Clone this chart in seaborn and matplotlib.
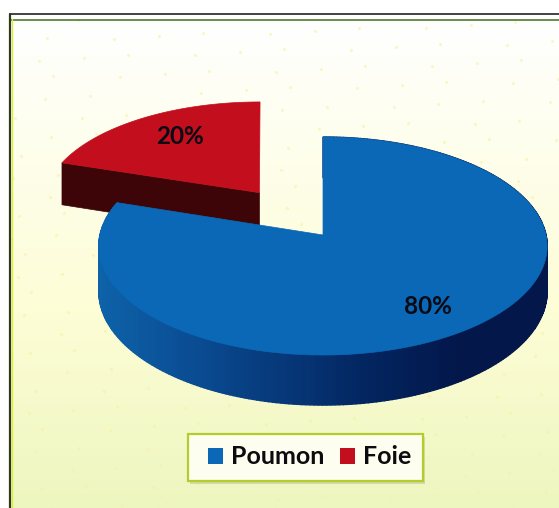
import numpy as np
import matplotlib
matplotlib.use("Agg")
import matplotlib.pyplot as plt
from matplotlib.colors import to_rgb
from matplotlib.patches import Patch, Polygon, Rectangle
import seaborn as sns

# Chart data
categories = ["Poumon", "Foie"]
shares = [80, 20]
value_labels = ["80%", "20%"]

top_colors = ["#0b68b6", "#c30f1d"]
foie_side_color = "#3d0508"
poumon_side_stops = ["#0e62a8", "#0a4d94", "#07397a", "#032560", "#03174a", "#03174a"]

sns.set_theme(style="white")
plt.rcParams["font.family"] = ["Lato", "DejaVu Sans"]

W, H = 559, 508
fig = plt.figure(figsize=(W / 100, H / 100), dpi=100)
ax = fig.add_axes([0, 0, 1, 1])
ax.set_xlim(0, W)
ax.set_ylim(H, 0)
ax.axis("off")

# Panel background: white fading to pale yellow-green
FRAME_L, FRAME_T = 10, 19
steps = np.linspace(0, 1, 256)[:, None]
start, mid, end = (np.array(to_rgb(c)) for c in ("#ffffff", "#fdfdd6", "#eef6bf"))
ramp = np.where(steps < 0.6, start + (mid - start) * steps / 0.6,
                mid + (end - mid) * (steps - 0.6) / 0.4)
ax.imshow(ramp[:, None, :], extent=(FRAME_L, W, H, FRAME_T), aspect="auto", zorder=0)
ax.set_xlim(0, W)
ax.set_ylim(H, 0)

# Faint printed speckle on an even low-discrepancy sequence
idx = np.arange(1, 260)
ax.scatter(FRAME_L + (W - FRAME_L) * ((idx * 0.7548776662) % 1),
           FRAME_T + (H - FRAME_T) * ((idx * 0.5698402910) % 1),
           s=5, color="#f8f0a0", alpha=0.55, linewidths=0, zorder=1)

# Frame lines
ax.plot([FRAME_L, W], [14, 14], color="#222222", lw=1.2, zorder=2)
ax.plot([FRAME_L, W], [19.5, 19.5], color="#3f6f1c", lw=1.1, zorder=2)
ax.plot([FRAME_L, FRAME_L], [14, H], color="#303818", lw=1.6, zorder=2)
ax.plot([FRAME_L + 1.5, FRAME_L + 1.5], [19, H], color="#d8f040", lw=1.0, zorder=2)

# Perspective projection of the unit disc onto the page
CX, CY, RX, RY, TILT, DEPTH = 323, 235, 223, 107.9, 0.101, 45
FOIE_LEAN = 5.0


def project(u, v):
    w = 1 + TILT * v
    return CX + RX * u / w, CY - RY * v / w


def depth_at(v):
    return DEPTH / (1 + TILT * v)


fractions = np.array(shares, dtype=float) / sum(shares)
sweep_poumon = 2 * np.pi * fractions[0]
sweep_foie = 2 * np.pi * fractions[1]

# Poumon runs clockwise from twelve o'clock; Foie fills the remainder and is pulled out
t_poumon = np.linspace(0, sweep_poumon, 300)
t_foie = np.linspace(2 * np.pi - sweep_foie, 2 * np.pi, 80)
bisector = 2 * np.pi - sweep_foie / 2
EXPLODE = 0.505
off_u, off_v = EXPLODE * np.sin(bisector), EXPLODE * np.cos(bisector)

# Foie wedge: cut face, then top
x1, y1 = project(off_u, off_v)
fu, fv = off_u + np.sin(t_foie), off_v + np.cos(t_foie)
fx, fy = project(fu, fv)
fx = fx - FOIE_LEAN * (fv - off_v)
ax.add_patch(Polygon([(fx[0], fy[0]), (x1, y1), (x1, y1 + depth_at(off_v)),
                      (fx[0], fy[0] + depth_at(fv[0]))],
                     closed=True, fc=foie_side_color, ec=foie_side_color, lw=0.5, zorder=3))
ax.add_patch(Polygon(np.column_stack([np.r_[x1, fx], np.r_[y1, fy]]),
                     closed=True, fc=top_colors[1], ec=top_colors[1], lw=0.5, zorder=4))

# Poumon wedge: rim shaded in thin strips from left to right, then top
u, v = np.sin(t_poumon), np.cos(t_poumon)
px, py = project(u, v)
rim = depth_at(v)
across = (px - px.min()) / (px.max() - px.min())
shades = sns.blend_palette(poumon_side_stops, n_colors=128)
for i in range(len(t_poumon) - 1):
    shade = shades[int(across[i] * 127)]
    ax.add_patch(Polygon([(px[i], py[i]), (px[i + 1], py[i + 1]),
                          (px[i + 1], py[i + 1] + rim[i + 1]), (px[i], py[i] + rim[i])],
                         closed=True, fc=shade, ec=shade, lw=1.0, zorder=5))

apex = project(0, 0)
ax.add_patch(Polygon(np.column_stack([np.r_[apex[0], px], np.r_[apex[1], py]]),
                     closed=True, fc=top_colors[0], ec=top_colors[0], lw=0.5, zorder=6))

# Value labels
label_font = dict(fontsize=17.5, fontweight="bold", color="#0a0a14", ha="center", va="center", zorder=8)
ax.text(428, 307, value_labels[0], **label_font)
ax.text(180, 136, value_labels[1], **label_font)

# Legend box with a soft drop shadow, entries on top
ax.add_patch(Rectangle((190, 437), 235, 47, fc="#9aa878", ec="none", alpha=0.35, zorder=7))
ax.add_patch(Rectangle((188, 434), 235, 47, fc="#fdfdf0", ec="#b4cc2c", lw=1.6, zorder=7.5))
handles = [Patch(fc=c, ec="none") for c in top_colors]
legend = ax.legend(handles, categories, ncols=2, loc="center",
                   bbox_to_anchor=(309.5, 457), bbox_transform=ax.transData,
                   frameon=False,
                   prop=dict(family="Lato", weight="bold", size=18),
                   handlelength=0.6, handleheight=0.6, handletextpad=0.32,
                   columnspacing=0.65, borderpad=0, borderaxespad=0, labelcolor="#0c0c10")
legend.set_zorder(9)

fig.savefig("out.png", dpi=100)
